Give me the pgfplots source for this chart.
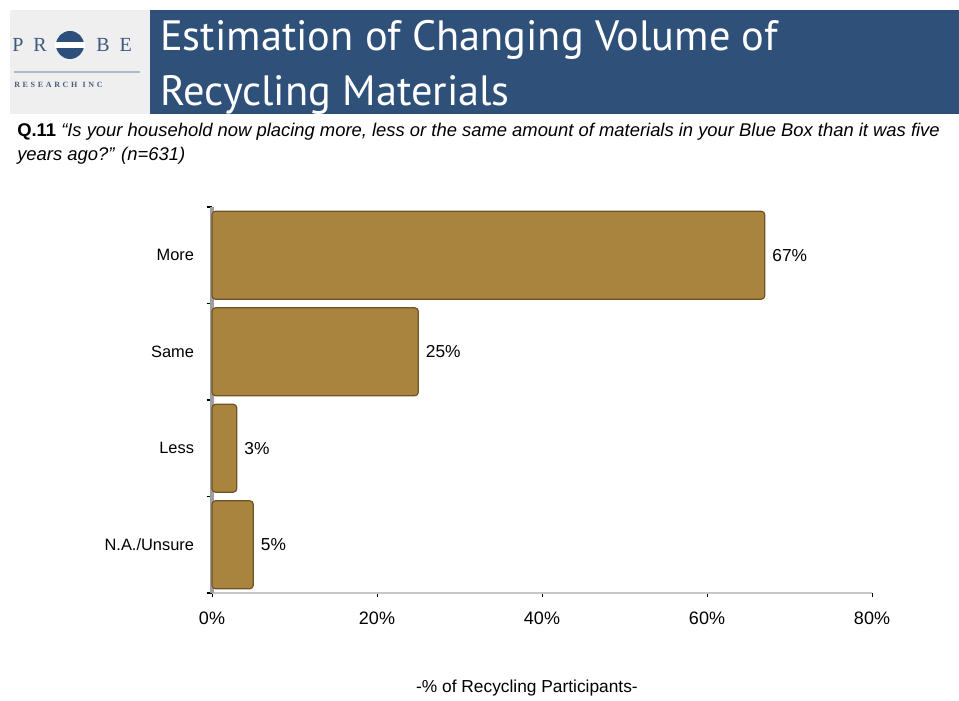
\documentclass[border=0pt]{standalone}
\usepackage{pgfplots}
\pgfplotsset{compat=1.18}
\usepackage{fontspec}
\setmainfont{Liberation Sans}
\newfontfamily\titlefont{PT Sans}
\newfontfamily\logofont{Liberation Serif}
\definecolor{band}{HTML}{2E5079}
\definecolor{logobg}{HTML}{EFEFEF}
\definecolor{barfill}{HTML}{A8843F}
\definecolor{baredge}{HTML}{6E5526}
\definecolor{logoblue}{HTML}{2D4F7C}
\begin{document}
\begin{tikzpicture}[x=0.75pt,y=0.75pt]
% page frame, pixel coordinates with origin at bottom left
\path[fill=white] (0,0) rectangle (959,700);
% header
\fill[logobg] (10,586) rectangle (150,690);
\fill[band] (150,586) rectangle (959,690);
\node[anchor=west,text=white,font=\titlefont\fontsize{31.8}{33}\selectfont,inner sep=0] at (160,660) {Estimation of Changing Volume of};
\node[anchor=west,text=white,font=\titlefont\fontsize{31.8}{33}\selectfont,inner sep=0] at (160,605) {Recycling Materials};
% logo
\node[anchor=west,text=logoblue!80!gray,font=\logofont\fontsize{15}{15}\selectfont,inner sep=0] at (12,655) {P\,\,\,R};
\node[anchor=west,text=logoblue!80!gray,font=\logofont\fontsize{15}{15}\selectfont,inner sep=0] at (96,655) {B\,\,\,E};
\fill[logoblue] (70,655) circle (14);
\fill[white] (55,652) rectangle (85,658);
\draw[logoblue!40,line width=1pt] (14,628) -- (140,628);
\node[anchor=west,text=logoblue!70!gray,font=\logofont\bfseries\fontsize{6}{6}\selectfont,inner sep=0] at (14,615) {R\,\,E\,\,S\,\,E\,\,A\,\,R\,\,C\,\,H\,\,\,\,I\,\,N\,\,C};
% question
\node[anchor=north west,align=left,inner sep=0,font=\fontsize{13.8}{18}\selectfont] at (17,577)
  {\textbf{Q.11} \textit{“Is your household now placing more, less or the same amount of materials in your Blue Box than it was five}\\
   \textit{years ago?” (n=631)}};
% chart
\coordinate (axorig) at (212,107);
\begin{axis}[
  at={(axorig)}, anchor=south west,
  scale only axis, width=495pt, height=289.5pt,
  xbar, bar width=0.91,
  xmin=0, xmax=80,
  ymin=-0.5, ymax=3.5,
  xtick={0,20,40,60,80},
  xticklabel={\pgfmathprintnumber{\tick}\%},
  /pgf/number format/assume math mode=true,
  xticklabel style={font=\fontsize{13.5}{15}\selectfont, yshift=-8pt},
  ytick={0,1,2,3},
  yticklabels={N.A./Unsure,Less,Same,More},
  yticklabel style={font=\fontsize{12.3}{14}\selectfont, xshift=-7pt},
  major y tick style={draw=none},
  minor ytick={-0.5,0.5,1.5,2.5,3.5},
  minor tick length=4pt,
  minor y tick style={black, thick},
  major tick length=3pt,
  xtick style={black, thin},
  tick align=outside,
  axis x line*=bottom,
  axis y line*=left,
  x axis line style={draw=gray!45, line width=1.5pt, -},
  y axis line style={draw=gray!75, line width=3pt, -},
  nodes near coords={\pgfmathprintnumber{\pgfplotspointmeta}\%},
  nodes near coords style={font=\fontsize{13}{15}\selectfont, text=black, anchor=west, xshift=2pt},
  clip=false,
]
\addplot[fill=barfill, draw=baredge, line width=0.9pt, rounded corners=2.5pt] coordinates {
  (5,0) (3,1) (25,2) (67,3)
};
\end{axis}
\node[font=\fontsize{13}{15}\selectfont] at (527,12) {-\% of Recycling Participants-};
\end{tikzpicture}
\end{document}
